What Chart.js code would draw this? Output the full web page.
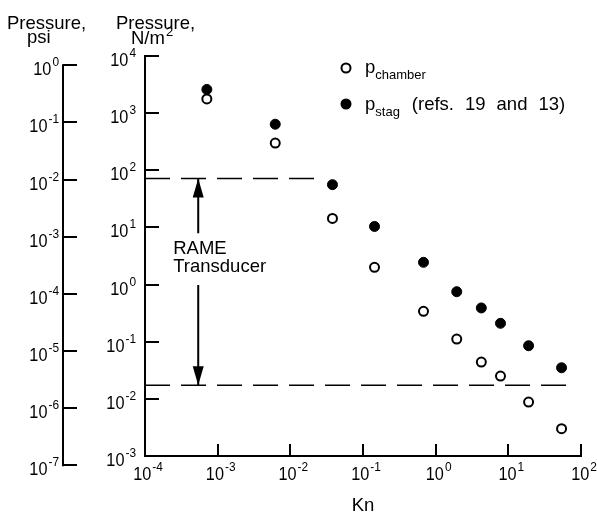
<!DOCTYPE html>
<html>
<head>
<meta charset="utf-8">
<script src="https://cdn.jsdelivr.net/npm/chart.js@4.4.1/dist/chart.umd.min.js"></script>
<style>
  html, body { margin: 0; padding: 0; background: #fff; }
</style>
</head>
<body>
<canvas id="myChart" width="597" height="514"></canvas>
<script>
// Knudsen number of each test point
const kn = [7.1e-4, 6.2e-3, 0.038, 0.144, 0.68, 1.95, 4.25, 7.8, 19, 54];
// pressures, N/m^2
const pChamber = [1770, 300, 14.4, 2.0, 0.34, 0.111, 0.044, 0.025, 0.0088, 0.0030];
const pStag = [2600, 640, 56, 10.4, 2.45, 0.75, 0.39, 0.21, 0.085, 0.035];

// RAME transducer range, N/m^2, and how far along Kn its dashed lines run
const rameUpper = 72;
const rameLower = 0.0173;
const rameUpperKn = [1e-4, 0.024];
const rameLowerKn = [1e-4, 67];
const arrowKn = 5.4e-4;
const arrowUp = [7.9, rameUpper];     // tail, tip
const arrowDown = [0.98, rameLower];

const knTicks = [1e-4, 1e-3, 1e-2, 1e-1, 1e0, 1e1, 1e2];
const paTicks = [1e-3, 1e-2, 1e-1, 1e0, 1e1, 1e2, 1e3, 1e4];
const psiTicks = [1e0, 1e-1, 1e-2, 1e-3, 1e-4, 1e-5, 1e-6, 1e-7];
const PA_PER_PSI = 6894.76;

const FONT = '"Liberation Sans", Arial, Helvetica, sans-serif';
const BIG = '18.5px ' + FONT;
const SMALL = '13px ' + FONT;

const pts = (xs, ys) => xs.map((v, i) => ({ x: v, y: ys[i] }));
const fixTicks = list => scale => { scale.ticks = list.map(v => ({ value: v })); };

// "10" with the exponent raised; drawn a little narrow like the original lettering
function drawPow(ctx, value, x, yBase, align) {
  const exp = String(Math.round(Math.log10(value)));
  const sx = 0.88;
  ctx.font = '18.5px ' + FONT;
  const wb = ctx.measureText('10').width * sx;
  ctx.font = '13.5px ' + FONT;
  const ws = ctx.measureText(exp).width * sx;
  const total = wb + 1 + ws;
  let x0 = x;
  if (align === 'right') x0 = x - total;
  if (align === 'center') x0 = x - total / 2;
  ctx.save();
  ctx.textAlign = 'left';
  ctx.textBaseline = 'alphabetic';
  ctx.translate(x0, yBase);
  ctx.scale(sx, 1);
  ctx.font = '18.5px ' + FONT;
  ctx.fillText('10', 0, 0);
  ctx.font = '13.5px ' + FONT;
  ctx.fillText(exp, (wb + 1) / sx, -9);
  ctx.restore();
}

const decor = {
  id: 'decor',
  afterDraw(chart) {
    const { ctx } = chart;
    const { x, y, psi } = chart.scales;
    ctx.save();
    ctx.fillStyle = '#000';
    ctx.strokeStyle = '#000';

    // psi axis line (runs past the plot area, as in the original)
    ctx.lineWidth = 2;
    ctx.beginPath();
    ctx.moveTo(psi.right, psi.getPixelForValue(psiTicks[0]) - 1);
    ctx.lineTo(psi.right, psi.getPixelForValue(psiTicks[psiTicks.length - 1]) + 1);
    ctx.stroke();

    // tick labels
    psiTicks.forEach(v => drawPow(ctx, v, psi.right - 4, psi.getPixelForValue(v) + 10, 'right'));
    paTicks.forEach(v => drawPow(ctx, v, y.right - 9, y.getPixelForValue(v) + 10, 'right'));
    knTicks.forEach(v => drawPow(ctx, v, x.getPixelForValue(v) + 3, 480, 'center'));

    // axis titles
    ctx.font = BIG;
    ctx.textAlign = 'left';
    ctx.fillText('Pressure,', psi.left + 7, 29);
    ctx.fillText('psi', psi.left + 27, 43);
    ctx.fillText('Pressure,', y.left + 53, 29);
    ctx.fillText('N/m', y.left + 68, 44);
    const wN = ctx.measureText('N/m').width;
    ctx.font = SMALL;
    ctx.fillText('2', y.left + 68 + wN + 1, 36);

    // arrowheads
    const ax = x.getPixelForValue(arrowKn);
    const tipUp = y.getPixelForValue(arrowUp[1]);
    const tipDown = y.getPixelForValue(arrowDown[1]);
    ctx.beginPath();
    ctx.moveTo(ax, tipUp);
    ctx.lineTo(ax - 5.5, tipUp + 19);
    ctx.lineTo(ax + 5.5, tipUp + 19);
    ctx.closePath();
    ctx.fill();
    ctx.beginPath();
    ctx.moveTo(ax, tipDown);
    ctx.lineTo(ax - 5.5, tipDown - 19);
    ctx.lineTo(ax + 5.5, tipDown - 19);
    ctx.closePath();
    ctx.fill();

    ctx.font = BIG;
    ctx.fillText('RAME', ax - 25, 254);
    ctx.fillText('Transducer', ax - 25, 272);

    // legend
    const lx = 346;
    ctx.lineWidth = 2;
    ctx.beginPath();
    ctx.arc(lx, 68, 4.5, 0, Math.PI * 2);
    ctx.fillStyle = '#fff';
    ctx.fill();
    ctx.stroke();
    ctx.fillStyle = '#000';
    ctx.beginPath();
    ctx.arc(lx, 104, 5.5, 0, Math.PI * 2);
    ctx.fill();

    const tx = lx + 19;
    ctx.font = BIG;
    ctx.fillText('p', tx, 73);
    const wp = ctx.measureText('p').width;
    ctx.font = SMALL;
    ctx.fillText('chamber', tx + wp, 79);

    ctx.font = BIG;
    ctx.fillText('p', tx, 110);
    ctx.font = SMALL;
    ctx.fillText('stag', tx + wp, 116);
    let cx = tx + wp + ctx.measureText('stag').width + 12;
    ctx.font = BIG;
    ['(refs.', '19', 'and', '13)'].forEach(w => {
      ctx.fillText(w, cx, 110);
      cx += ctx.measureText(w).width + 11;
    });

    ctx.restore();
  }
};

const tickGrid = len => ({
  drawOnChartArea: false,
  drawTicks: true,
  tickLength: len,
  color: '#000',
  lineWidth: 2
});

new Chart(document.getElementById('myChart'), {
  type: 'scatter',
  data: {
    datasets: [
      {
        label: 'p chamber',
        data: pts(kn, pChamber),
        pointRadius: 4.5,
        borderWidth: 2,
        borderColor: '#000',
        backgroundColor: '#fff'
      },
      {
        label: 'p stag (refs. 19 and 13)',
        data: pts(kn, pStag),
        pointRadius: 5,
        borderWidth: 1,
        borderColor: '#000',
        backgroundColor: '#000'
      },
      {
        label: 'RAME upper',
        data: pts(rameUpperKn, [rameUpper, rameUpper]),
        showLine: true,
        pointRadius: 0,
        borderColor: '#000',
        borderWidth: 1.5,
        borderDash: [25, 11]
      },
      {
        label: 'RAME lower',
        data: pts(rameLowerKn, [rameLower, rameLower]),
        showLine: true,
        pointRadius: 0,
        borderColor: '#000',
        borderWidth: 1.5,
        borderDash: [25, 11]
      },
      {
        label: 'arrow up',
        data: pts([arrowKn, arrowKn], arrowUp),
        showLine: true,
        pointRadius: 0,
        borderColor: '#000',
        borderWidth: 2
      },
      {
        label: 'arrow down',
        data: pts([arrowKn, arrowKn], arrowDown),
        showLine: true,
        pointRadius: 0,
        borderColor: '#000',
        borderWidth: 2
      }
    ]
  },
  options: {
    responsive: false,
    animation: false,
    events: [],
    layout: { padding: { top: 56, right: 16, left: 0, bottom: 0 } },
    plugins: { legend: { display: false }, tooltip: { enabled: false } },
    scales: {
      x: {
        type: 'logarithmic',
        position: 'bottom',
        min: 1e-4,
        max: 1e2,
        afterBuildTicks: fixTicks(knTicks),
        afterFit: s => { s.height = 58; },
        ticks: { display: false },
        grid: tickGrid(-12),
        border: { color: '#000', width: 2 },
        title: {
          display: true,
          text: 'Kn',
          color: '#000',
          font: { family: FONT, size: 18.5 },
          padding: { top: 0, bottom: -3 }
        }
      },
      y: {
        type: 'logarithmic',
        position: 'left',
        weight: 0,
        min: paTicks[0],
        max: paTicks[paTicks.length - 1],
        afterBuildTicks: fixTicks(paTicks),
        afterFit: s => { s.width = 82; },
        ticks: { display: false },
        grid: tickGrid(-14),
        border: { color: '#000', width: 2 }
      },
      psi: {
        type: 'logarithmic',
        position: 'left',
        weight: 1,
        min: paTicks[0] / PA_PER_PSI,
        max: paTicks[paTicks.length - 1] / PA_PER_PSI,
        afterBuildTicks: fixTicks(psiTicks),
        afterFit: s => { s.width = 63; },
        ticks: { display: false },
        grid: tickGrid(-14),
        border: { display: false }
      }
    }
  },
  plugins: [decor]
});
</script>
</body>
</html>
